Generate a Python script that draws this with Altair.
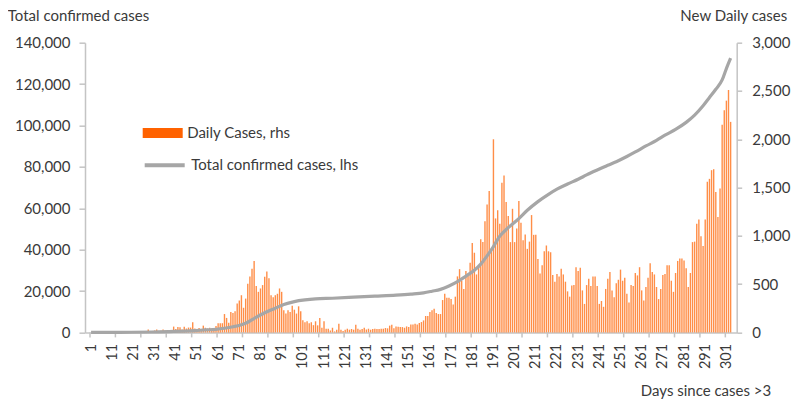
import altair as alt
import pandas as pd

# ---------------- data ----------------
days = list(range(1, 304))

daily_cases = [
    # days 1-25
    0, 0, 1, 0, 2, 1, 2, 3, 2, 4, 3, 5, 4, 3, 6, 5, 4, 8, 6, 5, 10, 8, 12, 9, 14,
    # days 26-60
    10, 8, 30, 12, 15, 20, 30, 14, 18, 30, 20, 25, 15, 22, 60, 35, 55, 52, 30, 58,
    40, 50, 50, 105, 40, 30, 45, 35, 70, 48, 40, 48, 38, 40, 65,
    # days 61-107
    95, 95, 95, 190, 150, 100, 210, 200, 220, 300, 330, 385, 255, 350, 505, 580,
    660, 740, 480, 420, 455, 490, 575, 630, 560, 385, 365, 385, 400, 455, 420, 230,
    195, 230, 210, 275, 235, 195, 270, 220, 125, 105, 115, 95, 105, 75, 115,
    # days 108-158
    73, 150, 48, 115, 38, 38, 20, 48, 10, 28, 90, 28, 14, 28, 38, 28, 35, 28, 80,
    38, 28, 35, 48, 30, 38, 28, 35, 38, 35, 35, 38, 38, 45, 42, 70, 80, 42, 62, 58,
    55, 55, 48, 62, 55, 83, 83, 90, 83, 97, 107, 124,
    # days 159-200
    170, 170, 210, 230, 245, 200, 190, 190, 335, 400, 360, 360, 345, 290, 370, 580,
    655, 535, 450, 635, 600, 720, 925, 825, 600, 695, 965, 935, 1150, 1325, 1465,
    850, 2000, 1180, 1265, 1125, 1550, 1625, 1350, 1205, 935, 1280,
    # days 201-250
    935, 1075, 1360, 1135, 955, 1015, 865, 940, 1215, 1010, 1010, 760, 610, 695,
    840, 900, 840, 830, 595, 525, 605, 580, 660, 600, 525, 425, 370, 485, 490, 675,
    635, 670, 435, 295, 490, 555, 480, 580, 580, 480, 295, 325, 265, 450, 555, 625,
    435, 365, 510, 545,
    # days 251-303
    650, 535, 565, 400, 310, 490, 480, 615, 590, 675, 435, 330, 470, 565, 715, 625,
    600, 470, 345, 450, 595, 605, 695, 695, 535, 420, 615, 740, 765, 765, 745, 665,
    470, 615, 935, 940, 1125, 1170, 995, 895, 1170, 1560, 1590, 1680, 1690, 1455,
    1195, 1490, 2150, 2300, 2400, 2510, 2180,
]

total_days = [1, 10, 20, 30, 40, 50, 55, 60, 64, 68, 72, 75, 78, 83, 88, 92, 97,
              102, 107, 115, 125, 135, 145, 152, 158, 162, 166, 170, 174, 178,
              182, 185, 188, 191, 194, 198, 203, 207, 212, 217, 221, 226, 231,
              235, 240, 245, 249, 254, 258, 263, 268, 272, 277, 282, 286, 290,
              293, 296, 299, 301, 303]
total_cases = [4, 30, 80, 200, 450, 900, 1200, 1500, 2000, 2700, 3700, 4900, 6700,
               9500, 11700, 13500, 14900, 15700, 16200, 16500, 17000, 17500, 18000,
               18500, 19100, 19900, 20800, 22400, 24500, 27200, 30000, 33000, 37000,
               41500, 46500, 50600, 55000, 59000, 63200, 66700, 69200, 71700, 74000,
               76100, 78500, 80800, 82500, 85000, 87200, 90100, 92800, 95300, 98100,
               101500, 105000, 109500, 113500, 117500, 122000, 127500, 132500]

x_label_days = [1, 11, 21, 31, 41, 51, 61, 71, 81, 91, 101, 111, 121, 131, 141,
                151, 161, 171, 181, 191, 201, 211, 221, 231, 241, 251, 261, 271,
                281, 291, 301]
x_tick_marks = [0.5, 12.5, 24.5, 36.5, 48.5, 60.5, 72.5, 84.5, 96.5, 108.5, 120.5,
                132.5, 144.5, 156.5, 168.5, 180.5, 192.5, 204.5, 216.5, 228.5,
                240.5, 252.5, 264.5, 276.5, 288.5, 300.5]
left_ticks = [0, 20000, 40000, 60000, 80000, 100000, 120000, 140000]
right_ticks = [0, 500, 1000, 1500, 2000, 2500, 3000]

bar_label = "Daily Cases, rhs"
line_label = "Total confirmed cases, lhs"

# ---------------- chart ----------------
W = 651.7
H = 289.7
FONT = "Lato"
TXT = "#3a3a3a"
AXC = "#C4C4C4"
ORANGE = "#FF6200"
GREY = "#A6A6A6"

bars_df = pd.DataFrame({"day": days, "cases": daily_cases, "series": bar_label})
line_df = pd.DataFrame({"day": total_days, "total": total_cases, "series": line_label})
ticks_df = pd.DataFrame({"day": x_tick_marks})

xscale = alt.Scale(domain=[0.5, 303.5], nice=False, zero=False)

xaxis = alt.Axis(
    values=x_label_days, labelAngle=-90, labelFlush=False, labelOverlap=False,
    labelSeparation=0, labelBound=False,
    tickSize=5, tickOpacity=0, labelPadding=6, grid=False,
    domainColor=AXC, domainWidth=1.5,
    labelFont=FONT, labelFontSize=14.5, labelColor=TXT,
    title="Days since cases >3", titleFont=FONT, titleFontSize=15,
    titleFontWeight="normal", titleColor=TXT,
    titleX=685.7, titleY=58.3, titleAlign="right", titleBaseline="middle",
)

bars = alt.Chart(bars_df).mark_bar(size=1.4, opacity=0.72).encode(
    x=alt.X("day:Q", scale=xscale, axis=xaxis),
    y=alt.Y(
        "cases:Q",
        scale=alt.Scale(domain=[0, 3000], nice=False),
        axis=alt.Axis(
            orient="right", values=right_ticks, format=",d", grid=False,
            tickSize=5, tickColor=AXC, tickWidth=1.5, domainColor=AXC, domainWidth=1.5,
            labelPadding=10, labelFont=FONT, labelFontSize=15, labelColor=TXT,
            title="New Daily cases", titleFont=FONT, titleFontSize=15,
            titleFontWeight="normal", titleColor=TXT, titleAngle=0,
            titleX=50, titleY=-21.7, titleAlign="right", titleBaseline="alphabetic",
        ),
    ),
    color=alt.Color(
        "series:N",
        scale=alt.Scale(domain=[bar_label], range=[ORANGE]),
        legend=alt.Legend(
            title=None, orient="none", legendX=57.7, legendY=70.3, padding=0,
            symbolType="M-1,-0.25H1V0.25H-1Z", symbolSize=1600, symbolStrokeWidth=0,
            symbolOpacity=1, labelFont=FONT, labelFontSize=15, labelColor=TXT,
            labelOffset=4.5, labelLimit=400,
        ),
    ),
)

tick_rules = alt.Chart(ticks_df).mark_rule(color=AXC, strokeWidth=1.5).encode(
    x=alt.X("day:Q", scale=xscale, axis=xaxis),
    y=alt.value(H),
    y2=alt.value(H + 5),
)

line = alt.Chart(line_df).mark_line(strokeWidth=3.2, interpolate="monotone").encode(
    x=alt.X("day:Q", scale=xscale, axis=xaxis),
    y=alt.Y(
        "total:Q",
        scale=alt.Scale(domain=[0, 140000], nice=False),
        axis=alt.Axis(
            orient="left", values=left_ticks, format=",d", grid=False,
            tickSize=6, tickColor=AXC, tickWidth=1.5, domainColor=AXC, domainWidth=1.5,
            labelPadding=9, labelFont=FONT, labelFontSize=15, labelColor=TXT,
            title="Total confirmed cases", titleFont=FONT, titleFontSize=15,
            titleFontWeight="normal", titleColor=TXT, titleAngle=0,
            titleX=-77.7, titleY=-21.7, titleAlign="left", titleBaseline="alphabetic",
        ),
    ),
    stroke=alt.Stroke(
        "series:N",
        scale=alt.Scale(domain=[line_label], range=[GREY]),
        legend=alt.Legend(
            title=None, orient="none", legendX=57.7, legendY=100.6, padding=0,
            symbolType="stroke", symbolSize=1600, symbolStrokeWidth=4,
            labelFont=FONT, labelFontSize=15, labelColor=TXT, labelOffset=4.5,
            labelLimit=400,
        ),
    ),
)

chart = alt.layer(bars, tick_rules, line).resolve_scale(
    y="independent"
).properties(
    width=W, height=H,
    padding={"left": 77, "top": 34.7, "right": 55, "bottom": 67},
    autosize=alt.AutoSizeParams(type="none"),
    background="white",
).configure_view(stroke=None)

chart.save("out.html", embed_options={"renderer": "svg", "actions": False})
